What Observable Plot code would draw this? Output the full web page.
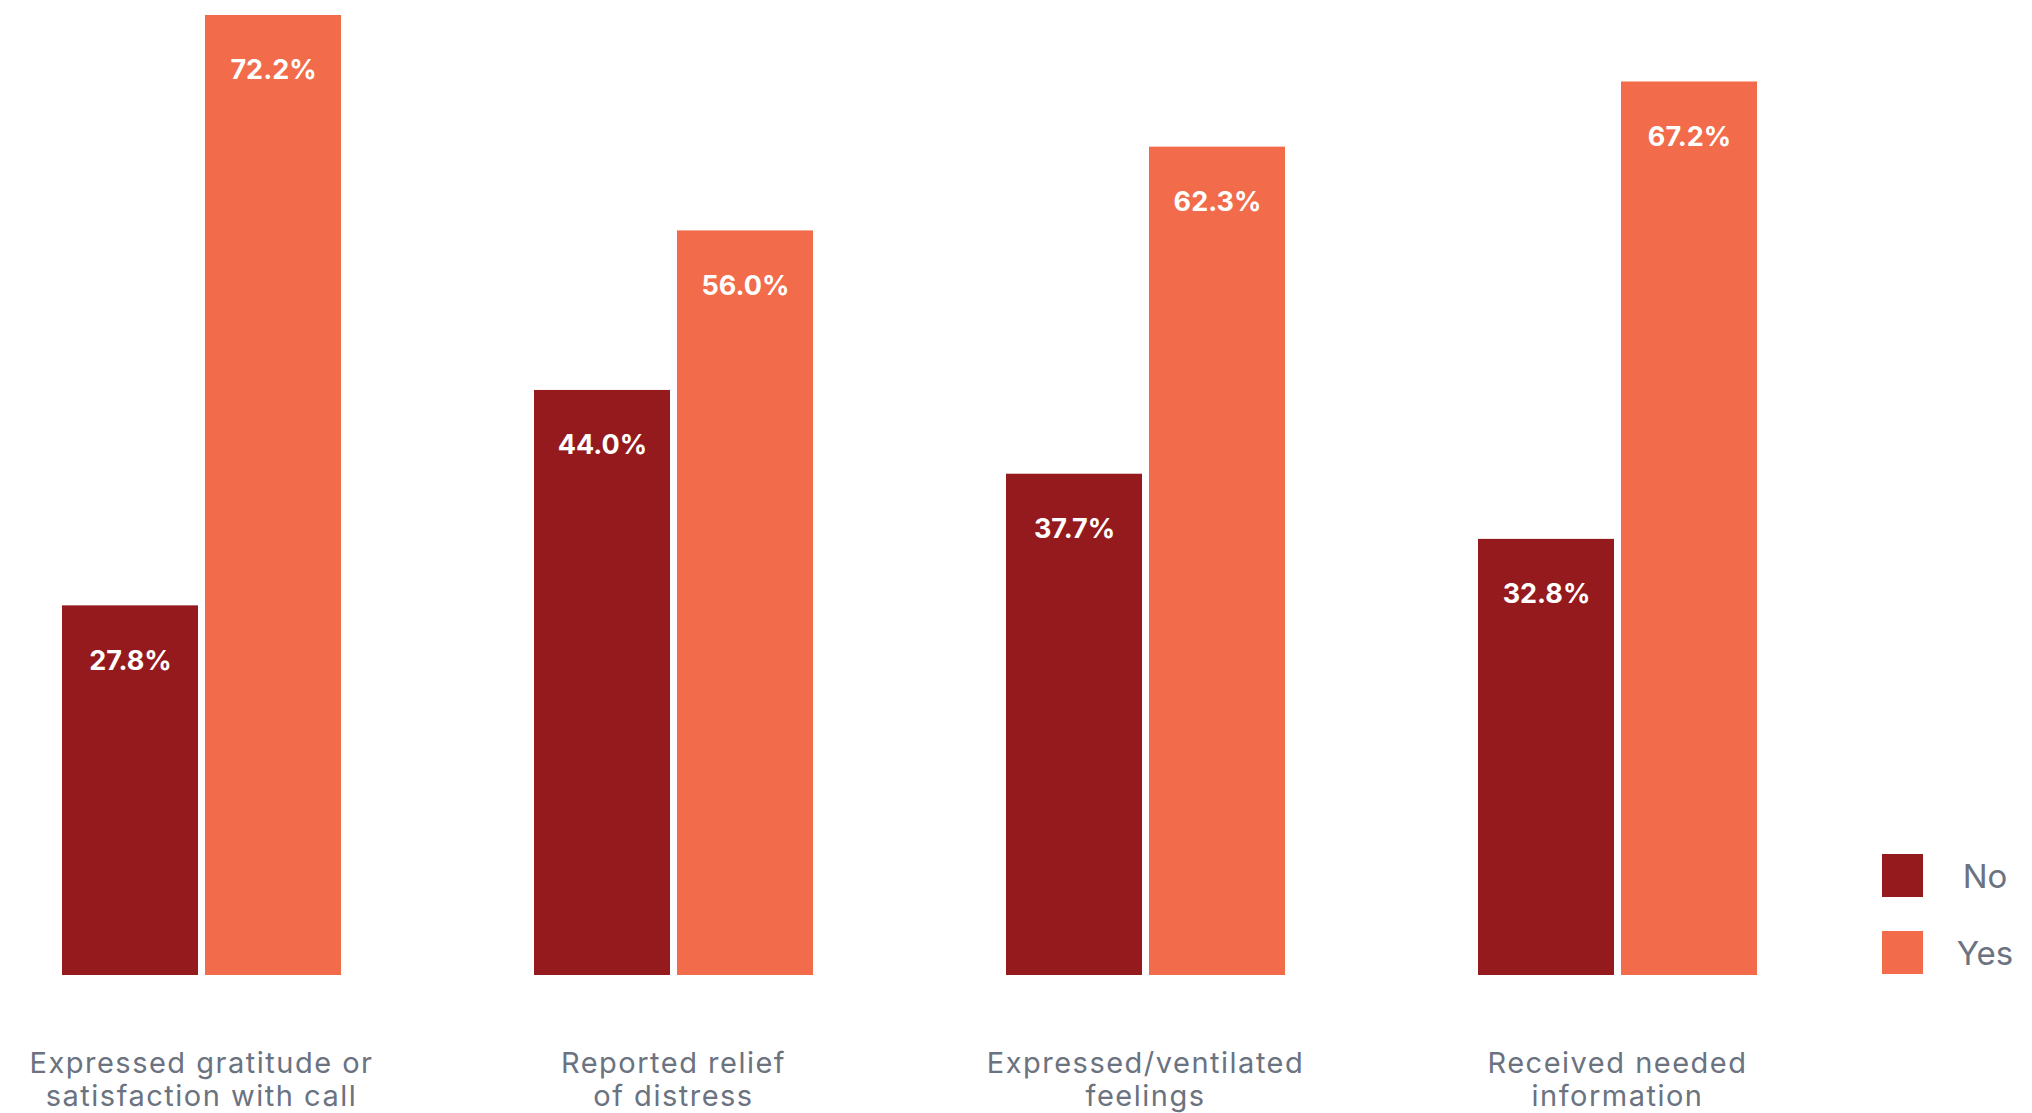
<!DOCTYPE html>
<html>
<head>
<meta charset="utf-8">
<script src="https://cdn.jsdelivr.net/npm/d3@7"></script>
<script src="https://cdn.jsdelivr.net/npm/@observablehq/plot@0.6"></script>
<style>
  html, body { margin: 0; padding: 0; background: #ffffff; }
  #wrap { position: relative; width: 2032px; height: 1113px; overflow: hidden; font-family: Inter, "Noto Sans", sans-serif; }
  .leg { position: absolute; display: flex; align-items: center; }
  .sw { width: 41px; height: 43px; }
  .lt { width: 76px; text-align: center; font-size: 33px; color: #6b7280; margin-left: 24px; }
</style>
</head>
<body>
<div id="wrap"></div>
<script>
const categories = ["gratitude", "relief", "ventilated", "information"];
const categoryLabels = [
  "Expressed gratitude or\nsatisfaction with call",
  "Reported relief\nof distress",
  "Expressed/ventilated\nfeelings",
  "Received needed\ninformation"
];
const answers = ["No", "Yes"];
const noValues = [27.8, 44.0, 37.7, 32.8];
const yesValues = [72.2, 56.0, 62.3, 67.2];
const answerColors = ["#941a1d", "#f26b4a"];

const data = [];
categories.forEach((c, i) => {
  data.push({category: c, answer: "No", value: noValues[i]});
  data.push({category: c, answer: "Yes", value: yesValues[i]});
});
const labelOf = Object.fromEntries(categories.map((c, i) => [c, categoryLabels[i]]));

const chart = Plot.plot({
  width: 2032,
  height: 1113,
  marginLeft: 60,
  marginRight: 274,
  marginTop: 15,
  marginBottom: 138,
  style: {fontFamily: "Inter, 'Noto Sans', sans-serif", color: "#6b7280", background: "#ffffff"},
  fx: {domain: categories, paddingInner: 0.407, paddingOuter: 0, label: null},
  x: {domain: answers, paddingInner: 0.05, paddingOuter: 0, axis: null},
  y: {domain: [0, 72.2], axis: null},
  color: {domain: answers, range: answerColors},
  marks: [
    Plot.barY(data, {fx: "category", x: "answer", y: "value", fill: "answer"}),
    Plot.text(data, {
      fx: "category", x: "answer", y: "value",
      text: d => d.value.toFixed(1) + "%",
      dy: 55, fill: "white", fontSize: 27, fontWeight: 700
    }),
    Plot.axisFx({
      anchor: "bottom", tickSize: 0, tickPadding: 74, fontSize: 29, lineHeight: 1.14,
      tickFormat: d => labelOf[d], label: null
    })
  ]
});
d3.select(chart).selectAll('g[aria-label="fx-axis tick label"] text')
  .style("letter-spacing", "1.5px");
const wrap = document.getElementById("wrap");
wrap.appendChild(chart);

// legend
const legendTops = [854, 931];
answers.forEach((a, i) => {
  const row = document.createElement("div");
  row.className = "leg";
  row.style.left = "1882px";
  row.style.top = legendTops[i] + "px";
  const sw = document.createElement("div");
  sw.className = "sw";
  sw.style.background = answerColors[i];
  const lt = document.createElement("div");
  lt.className = "lt";
  lt.textContent = a;
  row.appendChild(sw);
  row.appendChild(lt);
  wrap.appendChild(row);
});
</script>
</body>
</html>
